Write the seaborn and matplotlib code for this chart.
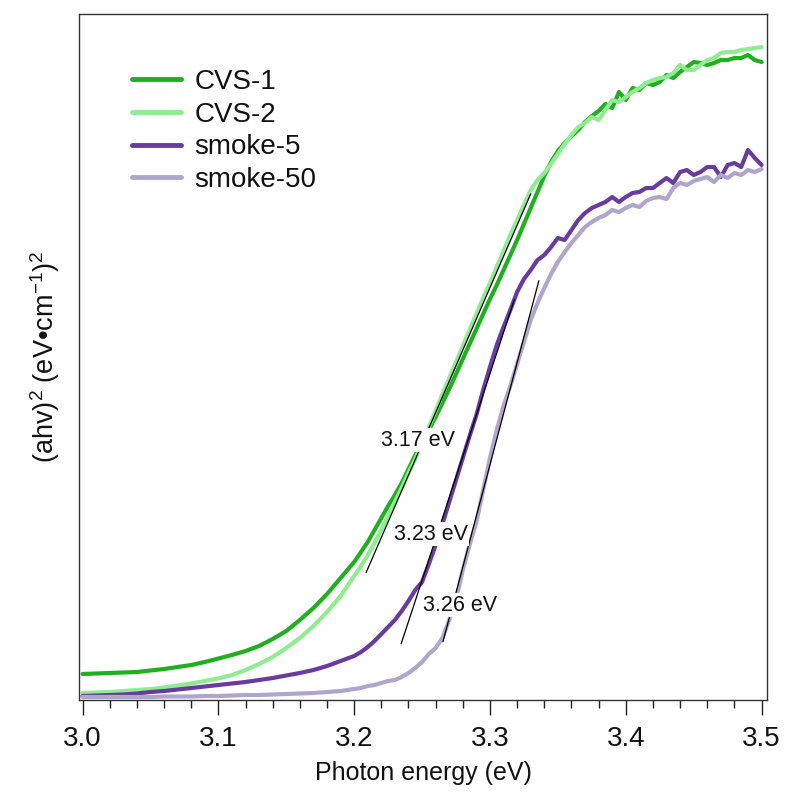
import numpy as np
import pandas as pd
import matplotlib
matplotlib.use("Agg")
import matplotlib.pyplot as plt
import seaborn as sns
from matplotlib.ticker import MultipleLocator, FormatStrFormatter

# ---------------- data ----------------
energy = np.round(np.concatenate([np.arange(3.00, 3.195, 0.01),
                                  np.arange(3.20, 3.5001, 0.005)]), 3)

cvs1 = [26, 26.5, 27, 27.5, 28, 29.5, 31, 33, 35, 38, 41.5, 45, 49, 54, 61, 69, 80, 92, 106, 122,
        138, 148, 158, 170, 182, 194, 205, 217, 231, 245,
        257, 270, 283, 297, 311, 326, 341, 356, 371, 386,
        401, 415, 430, 445, 460, 476, 492, 508, 524, 538,
        549, 557, 564, 570, 578, 584, 589, 596, 592, 608,
        600, 612, 610, 617, 615, 618, 625, 622, 628, 633,
        638, 637, 635, 637, 640, 640, 642, 642, 645, 640,
        638]
cvs2 = [7, 7.5, 8, 9, 10, 11, 12.5, 14.5, 16.5, 19, 21.5, 25, 30, 36, 43, 52, 62, 74, 88, 104,
        124, 134, 145, 157, 170, 184, 198, 212, 227, 241,
        257, 273, 289, 306, 322, 338, 354, 370, 386, 402,
        417, 433, 449, 465, 480, 495, 510, 520, 527, 536,
        546, 556, 565, 573, 577, 583, 580, 590, 600, 598,
        603, 608, 612, 617, 620, 622, 623, 627, 635, 630,
        630, 635, 640, 642, 647, 648, 648, 650, 651, 652,
        653]
smoke5 = [4, 4.5, 5, 5.5, 6.5, 8, 9, 10.5, 12, 13.5, 15, 16.5, 18, 20, 22, 24.5, 27, 30, 34, 39,
          44, 48, 53, 59, 66, 73, 80, 89, 99, 110,
          118, 136, 155, 176, 198, 220, 242, 264, 285, 310,
          333, 355, 373, 390, 408, 421, 430, 440, 445, 453,
          462, 460, 470, 480, 487, 492, 495, 498, 503, 498,
          503, 507, 508, 512, 512, 517, 522, 517, 528, 530,
          525, 528, 533, 533, 523, 535, 537, 533, 550, 542,
          535]
smoke50 = [3, 3, 3, 3, 3, 3, 3.5, 3.5, 3.5, 4, 4, 4.5, 5, 5, 5.5, 6, 6.5, 7, 8, 9,
           11, 12, 14, 15, 17, 19, 20, 23, 27, 32,
           38, 46, 52, 62, 80, 100, 130, 155, 178, 210,
           242, 270, 294, 314, 336, 358, 380, 397, 412, 426,
           438, 448, 457, 465, 473, 478, 482, 485, 490, 488,
           492, 495, 493, 499, 502, 503, 501, 512, 517, 515,
           519, 521, 523, 518, 525, 522, 527, 525, 530, 528,
           531]

samples = ["CVS-1", "CVS-2", "smoke-5", "smoke-50"]
colors = ["#1fb01f", "#90ec90", "#6a3b9f", "#b0a5cc"]

# Tauc tangent lines: x-intercept, slope (a.u. per eV), fitted range
tangent_x0 = [3.168, 3.221, 3.254]
tangent_slope = [3124, 4130, 5113]
tangent_range = [(3.2088, 3.330), (3.2346, 3.318), (3.2654, 3.336)]
gap_labels = ["3.17 eV", "3.23 eV", "3.26 eV"]
label_pos = [(3.247, 260), (3.2566, 166), (3.278, 95)]

# ---------------- figure ----------------
sns.set_theme(style="white")
plt.rcParams["font.family"] = ["Liberation Sans", "DejaVu Sans"]
plt.rcParams["mathtext.fontset"] = "custom"
plt.rcParams["mathtext.rm"] = "Liberation Sans"
plt.rcParams["mathtext.it"] = "Liberation Sans:italic"
plt.rcParams["text.color"] = "#111111"
plt.rcParams["axes.labelcolor"] = "#111111"
plt.rcParams["xtick.color"] = "#111111"

df = pd.DataFrame({
    "energy": np.tile(energy, 4),
    "value": np.concatenate([cvs1, cvs2, smoke5, smoke50]),
    "sample": np.repeat(samples, len(energy)),
})

fig = plt.figure(figsize=(7.87, 7.96), dpi=100)
ax = fig.add_axes([0.1004, 0.1206, 0.8742, 0.8618])

sns.lineplot(data=df, x="energy", y="value", hue="sample", hue_order=samples,
             palette=colors, linewidth=3.0, estimator=None, sort=True, ax=ax,
             zorder=2)

for x0, s, (xa, xb) in zip(tangent_x0, tangent_slope, tangent_range):
    xs = np.array([xa, xb])
    ax.plot(xs, s * (xs - x0), color="black", lw=0.9, zorder=3)

for txt, (lx, ly) in zip(gap_labels, label_pos):
    ax.text(lx, ly, txt, fontsize=15.5, ha="center", va="center", zorder=4,
            bbox=dict(facecolor="white", edgecolor="none", pad=1.0))

ax.set_xlim(2.9974, 3.504)
ax.set_ylim(0, 686)
ax.xaxis.set_major_locator(MultipleLocator(0.1))
ax.xaxis.set_minor_locator(MultipleLocator(0.02))
ax.xaxis.set_major_formatter(FormatStrFormatter("%.1f"))
ax.set_yticks([])
ax.tick_params(axis="x", which="major", direction="out", length=11, width=1.0,
               color="#222222", labelsize=20, pad=8, bottom=True)
ax.tick_params(axis="x", which="minor", direction="out", length=6, width=1.0,
               color="#222222", bottom=True)
for sp in ax.spines.values():
    sp.set_color("#333333")
    sp.set_linewidth(1.0)

ax.set_xlabel("Photon energy (eV)", fontsize=18, labelpad=6)
ax.set_ylabel(r"(ahv)$^\mathregular{2}$ (eV•cm$^\mathregular{-1}$)$^\mathregular{2}$",
              fontsize=19.5, labelpad=12)

leg = ax.legend(loc="upper left", bbox_to_anchor=(0.077, 0.92), frameon=False,
                fontsize=20, handlelength=1.75, handletextpad=0.5,
                labelspacing=0.24, borderaxespad=0, borderpad=0)
for line in leg.get_lines():
    line.set_linewidth(3.5)

fig.savefig("out.png", dpi=100)
